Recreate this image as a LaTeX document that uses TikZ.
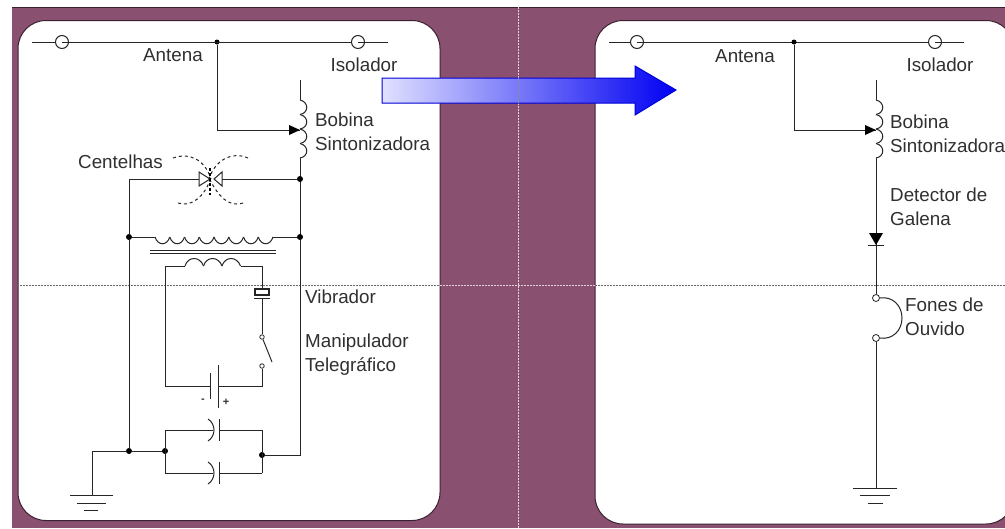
\documentclass[tikz,border=0pt]{standalone}
\usepackage{fontspec}
\setmainfont{Liberation Sans}
\usepackage{xcolor}
\usetikzlibrary{arrows.meta,positioning,calc}
\definecolor{painelfundo}{HTML}{8A5070}
\definecolor{painelborda}{HTML}{3A2030}
\definecolor{texto}{HTML}{303030}
\tikzset{
  every node/.style={font=\fontsize{18.8}{22}\selectfont, text=texto, inner sep=0pt},
  painel/.style={draw=painelborda, line width=1pt, fill=white, rounded corners=28pt},
  fio/.style={draw=black!85, line width=1pt},
  rotulo/.style={anchor=west},
  junta/.style={circle, fill=black, minimum size=6pt},
  isolador/.style={circle, draw=black!85, fill=white, line width=1pt, minimum size=13pt},
  contato/.style={circle, draw=black!85, fill=white, line width=0.8pt, minimum size=#1},
  contato/.default=7pt,
  centelha/.style={draw=black!85, line width=1pt, dash pattern=on 3pt off 3pt},
  pontilhado/.style={line width=0.7pt, dash pattern=on 2pt off 1pt},
  sinal/.style={font=\bfseries\fontsize{11}{12}\selectfont}
}
\begin{document}
\begin{tikzpicture}[x=1pt, y=-1pt]
\useasboundingbox (0,0) rectangle (1005,528);
\clip (0,0) rectangle (1005,528);

% Background and panels
\fill[painelfundo] (12,7) rectangle (1005,528);
\draw[painelborda, line width=1pt] (12,7) -- (1005,7);
\path[painel] (18,20.5) rectangle (440,520.5);
\path[painel] (595,20.5) rectangle (1014,524);

% Fold marks
\draw[pontilhado, white!75!painelfundo] (518,7) -- (518,528);
\draw[pontilhado, black!60] (17,285) -- (440,285);
\draw[pontilhado, white!75!painelfundo] (440,285) -- (595,285);
\draw[pontilhado, black!60] (595,285) -- (1005,285);

% Left circuit: antenna and tuning coil
\coordinate (antE) at (32,42);
\coordinate (antD) at (388,42);
\node[isolador] (iso1) at (62,42) {};
\node[isolador] (iso2) at (358,42) {};
\node[junta, minimum size=5pt] (jant) at (217,42) {};
\coordinate (dobra) at (217,130);
\coordinate (tap) at (300,130);
\coordinate (bobTopo) at (300,80);
\coordinate (bobIni) at (300,100);
\coordinate (bobFim) at (300,158);
\draw[fio] (antE) -- (iso1.west) (iso1.center) -- (iso2.west) (iso2.center) -- (antD);
\draw[fio] (jant) -- (dobra) -- (tap);
\fill[black] (tap) -- ++(-11,-5) -- ++(0,10) -- cycle;
\draw[fio] (bobTopo) -- (bobIni) (bobFim) -- (300,237);
\foreach \i in {0,...,3}
  \draw[fio] (300,100+14.5*\i) .. controls (309,102+14.5*\i) and (309,113+14.5*\i) .. (300,114.5+14.5*\i);

% Spark gap
\node[junta] (j1) at (300,179) {};
\node[junta] (j2) at (300,237) {};
\node[junta] (j3) at (129,237) {};
\node[junta] (j4) at (129,451) {};
\node[junta] (j5) at (165,451) {};
\node[junta] (j6) at (262,455) {};
\coordinate (cantoC) at (129,179);
\coordinate (gapE) at (199,179);
\coordinate (gapD) at (222,179);
\draw[fio] (j1) -- (gapD);
\draw[fio] (cantoC) -- (gapE);
\draw[fio] (cantoC) -- (j3) -- (j4);
\draw[fio] (gapE) -- ++(0,-7) -- ++(11,7) -- ++(-11,7) -- cycle;
\draw[fio] (gapD) -- ++(0,-7) -- ++(-8,7) -- ++(8,7) -- cycle;
\draw[centelha] (173,158) .. controls (190,152) and (205,160) .. (211,179);
\draw[centelha] (248,158) .. controls (232,151) and (215,160) .. (209,179);
\draw[centelha] (178,203) .. controls (192,208) and (205,195) .. (210,180);
\draw[centelha] (243,203) .. controls (228,208) and (218,195) .. (210,180);
\draw[black, line width=1.6pt, dash pattern=on 3pt off 2pt] (210,168) -- (210,195);

% Transformer
\draw[fio] (j3) -- (155,237) (273,237) -- (j2);
\foreach \i in {0,...,7}
  \draw[fio] (155+14.75*\i,237) .. controls (158+14.75*\i,246) and (167+14.75*\i,246) .. (169.75+14.75*\i,237);
\draw[fio] (150,250) -- (276,250) (150,253.5) -- (276,253.5);
\foreach \i in {0,1,2}
  \draw[fio] (185+18.5*\i,266) .. controls (188+18.5*\i,256) and (200+18.5*\i,256) .. (203.5+18.5*\i,266);
\coordinate (sec1) at (165,266);
\coordinate (sec2) at (262,266);
\coordinate (bat1) at (165,386);
\coordinate (bat2) at (262,386);
\draw[fio] (185,266) -- (sec1) -- (bat1) -- (210,386);
\draw[fio] (240.5,266) -- (sec2) -- (262,289);

% Vibrator and key
\node[draw=black!85, fill=white, line width=1.2pt, minimum width=14pt, minimum height=6pt] (vib) at (262,292) {};
\draw[fio] (254,298) -- (270,298);
\node[contato=4.5pt] (key1) at (262,337) {};
\node[contato=4.5pt] (key2) at (262,366) {};
\draw[fio] (262,298) -- (key1);
\draw[fio] (key2) -- (bat2) -- (218,386);
\draw[fio] (key1) -- (272,362);

% Battery
\draw[fio] (210,373) -- (210,399);
\draw[fio] (218,365) -- (218,408);
\node[sinal] (menos) at (203,401) {-};
\node[sinal] (mais) at (226,402) {+};

% Capacitors
\foreach \y in {430,473} {
  \draw[fio] (165,\y) -- (213,\y) (219,\y) -- (262,\y);
  \draw[fio] (208,\y-11) .. controls (216,\y-6) and (216,\y+6) .. (208,\y+11);
  \draw[fio] (219,\y-11) -- (219,\y+11);
}
\draw[fio] (165,430) -- (165,473) (262,430) -- (262,473);
\coordinate (cantoD) at (300,455);
\draw[fio] (j2) -- (cantoD) -- (j6);

% Ground
\coordinate (terraC) at (92,451);
\coordinate (terra) at (92,495);
\draw[fio] (j5) -- (j4) -- (terraC) -- (terra);
\draw[fio] (70,495) -- (113,495) (77,503) -- (106,503) (84,510) -- (98,510);

% Left labels
\node[anchor=center] (lAnt) at (173,55) {Antena};
\node[anchor=center] (lIso) at (364,65) {Isolador};
\node[rotulo] (lBob) at (315,120) {Bobina};
\node[rotulo] (lSin) at (315,144) {Sintonizadora};
\node[rotulo] (lCen) at (78,162) {Centelhas};
\node[rotulo] (lVib) at (305,297) {Vibrador};
\node[rotulo] (lMan) at (305,343) {Manipulador};
\node[rotulo] (lTel) at (305,367) {Telegráfico};

% Right circuit
\coordinate (antE2) at (609,42);
\coordinate (antD2) at (964,42);
\node[isolador] (iso3) at (637,42) {};
\node[isolador] (iso4) at (935,42) {};
\draw[fio] (antE2) -- (iso3.west) (iso3.center) -- (iso4.west) (iso4.center) -- (antD2);
\node[junta, minimum size=5pt] (jant2) at (794,42) {};
\coordinate (dobra2) at (794,130);
\coordinate (tap2) at (876,130);
\draw[fio] (jant2) -- (dobra2) -- (tap2);
\fill[black] (tap2) -- ++(-11,-5) -- ++(0,10) -- cycle;
\coordinate (bobTopo2) at (876,80);
\draw[fio] (bobTopo2) -- (876,100);
\foreach \i in {0,...,3}
  \draw[fio] (876,100+14.5*\i) .. controls (885,102+14.5*\i) and (885,113+14.5*\i) .. (876,114.5+14.5*\i);

% Detector and headphones
\node[contato] (fone1) at (876,298) {};
\node[contato] (fone2) at (876,338) {};
\coordinate (terra2) at (876,488);
\draw[fio] (876,158) -- (fone1);
\fill[black] (869,233) -- (883,233) -- (876,245) -- cycle;
\draw[fio] (868,245) -- (884,245);
\draw[fio] (fone1.east) .. controls (892,296) and (902,305) .. (902,318) .. controls (902,331) and (892,340) .. (fone2.east);
\draw[fio] (fone2) -- (terra2);
\draw[fio] (853,488) -- (897,488) (860,495) -- (890,495) (868,503) -- (883,503);

% Right labels
\node[anchor=center] (rAnt) at (745,56) {Antena};
\node[anchor=center] (rIso) at (940,65) {Isolador};
\node[rotulo] (rBob) at (890,122) {Bobina};
\node[rotulo] (rSin) at (890,146) {Sintonizadora};
\node[rotulo] (rDet) at (890,195) {Detector de};
\node[rotulo] (rGal) at (890,219) {Galena};
\node[rotulo] (rFon) at (905,305) {Fones de};
\node[rotulo] (rOuv) at (905,329) {Ouvido};

% Big arrow
\draw[draw=blue!85!black, line width=1pt, left color=blue!12, right color=blue!95!black]
  (382,78) -- (635,78) -- (635,66) -- (676,90) -- (635,115) -- (635,103) -- (382,103) -- cycle;
\draw[pontilhado, black!45] (518,78) -- (518,103);
\end{tikzpicture}
\end{document}
